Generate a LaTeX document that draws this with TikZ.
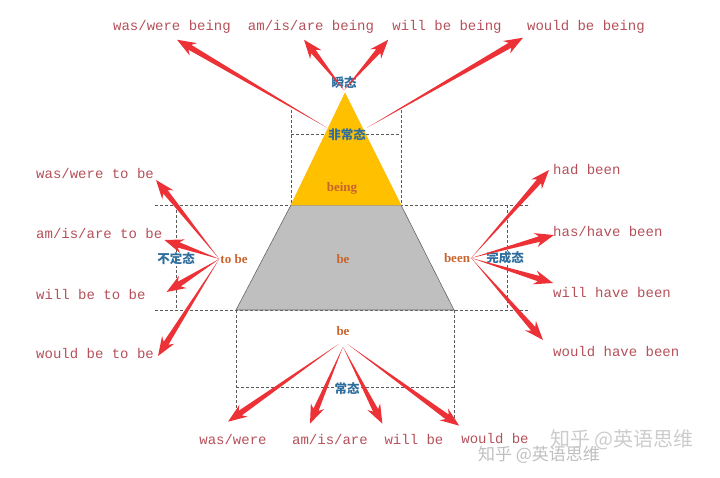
\documentclass[tikz,border=0pt]{standalone}
\usepackage{fontspec}
\setmainfont{Liberation Serif}
\newfontfamily\formfont{Liberation Mono}
\newfontfamily\cjk{Noto Sans CJK SC}
\usetikzlibrary{calc}

% Define colors
\definecolor{formRed}{HTML}{B5505A}
\definecolor{arrowRed}{HTML}{EC3237}
\definecolor{stemBrown}{HTML}{C8642D}
\definecolor{stateBlue}{HTML}{2D6E9E}
\definecolor{topYellow}{HTML}{FFC000}
\definecolor{baseGray}{HTML}{BFBFBF}

% tapered red arrow: thin at #1, head at #2
\newcommand{\redarrow}[2]{%
  \path (#2) coordinate (tip) ($(#2)!15pt!(#1)$) coordinate (neck) ($(#2)!19pt!(#1)$) coordinate (barb);
  \fill[arrowRed] (#1) -- ($(neck)!2.8pt!90:(tip)$) -- ($(barb)!7.2pt!90:(tip)$) -- (tip) -- ($(barb)!7.2pt!-90:(tip)$) -- ($(neck)!2.8pt!-90:(tip)$) -- cycle;
}

\begin{document}
\begin{tikzpicture}[
    x=1pt, y=-1pt,
    form/.style={font=\formfont\fontsize{14}{16}\selectfont, text=formRed, inner sep=2pt},
    stem/.style={font=\bfseries\fontsize{13}{15}\selectfont, text=stemBrown, inner sep=1pt},
    state/.style={font=\cjk\bfseries\fontsize{12.5}{14}\selectfont, text=stateBlue, inner sep=1pt},
    guide/.style={dash pattern=on 3pt off 2pt, gray!70!black, line width=0.7pt}
]
    \useasboundingbox (0,0) rectangle (720,477);

    % 1. Guide frames
    \draw[guide] (291,110) -- (291,205);
    \draw[guide] (401,110) -- (401,205);
    \draw[guide] (291,134) -- (401,134);
    \draw[guide] (155,205) -- (530,205);
    \draw[guide] (155,310) -- (530,310);
    \draw[guide] (176,205) -- (176,310);
    \draw[guide] (507,205) -- (507,310);
    \draw[guide] (236,310) -- (236,418);
    \draw[guide] (454,310) -- (454,418);
    \draw[guide] (236,387) -- (454,387);

    % 2. Pyramid
    \filldraw[fill=baseGray, draw=gray!80!black, line width=0.6pt] (291,205) -- (401,205) -- (454,310) -- (236,310) -- cycle;
    \filldraw[fill=topYellow, draw=topYellow!90!orange] (345,93) -- (401,205) -- (291,205) -- cycle;

    % 3. Stems and states
    \node[state] (shun) at (344,83) {瞬态};
    \node[state] (feichang) at (347,135) {非常态};
    \node[stem] (being) at (342,188) {being};
    \node[stem] (beMid) at (343,259) {be};
    \node[stem] (toBe) at (234,259) {to be};
    \node[state, fill=white] (buding) at (176,259) {不定态};
    \node[stem] (been) at (457,258) {been};
    \node[state, fill=white] (wancheng) at (505,258) {完成态};
    \node[stem] (beLow) at (343,331) {be};
    \node[state, fill=white] (changtai) at (347,389) {常态};

    % 4. Forms
    % top
    \node[form] (wwBeing) at (172,27) {was/were being};
    \node[form] (amBeing) at (311,27) {am/is/are being};
    \node[form] (willBeing) at (447,27) {will be being};
    \node[form] (wouldBeing) at (586,27) {would be being};
    % left
    \node[form, anchor=west] (wwToBe) at (34,173) {was/were to be};
    \node[form, anchor=west] (amToBe) at (34,233) {am/is/are to be};
    \node[form, anchor=west] (willToBe) at (34,294) {will be to be};
    \node[form, anchor=west] (wouldToBe) at (34,354) {would be to be};
    % right
    \node[form, anchor=west] (hadBeen) at (551,170) {had been};
    \node[form, anchor=west] (hasBeen) at (551,231) {has/have been};
    \node[form, anchor=west] (willHave) at (551,292) {will have been};
    \node[form, anchor=west] (wouldHave) at (551,352) {would have been};
    % bottom
    \node[form] (wwBot) at (233,439) {was/were};
    \node[form] (amBot) at (330,439) {am/is/are};
    \node[form] (willBot) at (414,439) {will be};
    \node[form] (wouldBot) at (495,439) {would be};

    % 5. Arrows
    \coordinate (beSrcL) at ([xshift=-4pt, yshift=-7pt]beLow.south);
    \coordinate (beSrcM) at ([yshift=-10pt]beLow.south);
    \coordinate (beSrcR) at ([xshift=4pt, yshift=-7pt]beLow.south);

    \redarrow{feichang.north west}{[xshift=5pt, yshift=-4pt]wwBeing.south}
    \redarrow{shun.south}{[xshift=-7pt, yshift=-4pt]amBeing.south}
    \redarrow{shun.south}{[xshift=-2pt, yshift=-4pt]willBeing.south west}
    \redarrow{feichang.north east}{[xshift=-2pt, yshift=-2pt]wouldBeing.south west}

    \redarrow{toBe.west}{[yshift=-7pt]wwToBe.east}
    \redarrow{toBe.west}{[yshift=-7pt]amToBe.east}
    \redarrow{toBe.west}{[xshift=19pt, yshift=2pt]willToBe.east}
    \redarrow{toBe.west}{[xshift=2pt, yshift=-2pt]wouldToBe.east}

    \redarrow{been.east}{[xshift=-2pt]hadBeen.west}
    \redarrow{been.east}{[xshift=3pt, yshift=-4pt]hasBeen.west}
    \redarrow{been.east}{[xshift=2pt, yshift=9pt]willHave.west}
    \redarrow{been.east}{[xshift=-8pt, yshift=12pt]wouldHave.west}

    \redarrow{beSrcL}{[xshift=-5pt, yshift=10pt]wwBot.north}
    \redarrow{beSrcM}{[xshift=20pt, yshift=8pt]amBot.north west}
    \redarrow{beSrcM}{[yshift=8pt]willBot.north west}
    \redarrow{beSrcR}{[yshift=6pt]wouldBot.north west}

    % 6. Watermark
    \node[font=\cjk\fontsize{17}{17}\selectfont, text=gray!50] (markSmall) at (539,455) {知乎 @英语思维};
    \node[font=\cjk\fontsize{20}{20}\selectfont, text=gray!40] (markBig) at (622,440) {知乎 @英语思维};

\end{tikzpicture}
\end{document}
